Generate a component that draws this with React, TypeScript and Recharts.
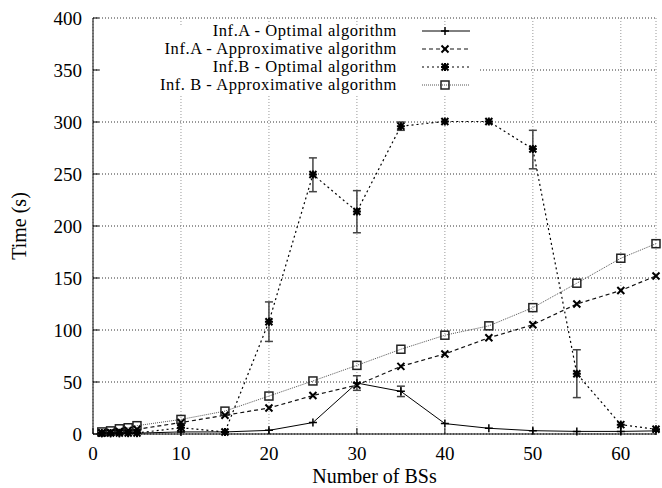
import React from 'react';
import { LineChart, Line, XAxis, YAxis, CartesianGrid, ErrorBar, Legend } from 'recharts';

const FONT = '"Liberation Serif", "Times New Roman", serif';

// number of base stations
const bss = [1, 2, 3, 4, 5, 10, 15, 20, 25, 30, 35, 40, 45, 50, 55, 60, 64];

// run times in seconds
const infAOptimal = [0.5, 0.5, 0.6, 0.7, 0.8, 2, 2, 3.5, 11, 49, 41, 10, 5.5, 3.2, 2.5, 2.5, 3];
const infAOptimalErr = [null, null, null, null, null, null, null, null, null, [7, 7], [5, 5], null, null, null, null, null, null];
const infAApprox = [1, 1.5, 2.5, 3.5, 4.5, 11, 18, 25, 37, 47, 65, 77, 92.5, 105, 125, 138, 152];
const infBOptimal = [1, 1, 1, 1, 1, 6, 2, 108, 249.5, 214, 296, 300.5, 300.5, 274, 58, 9, 4.5];
const infBOptimalErr = [null, null, null, null, null, null, null, [19, 19], [16.5, 16], [20.5, 20], [4, 4], null, null, [19, 18], [23, 23], null, null];
const infBApprox = [2, 3, 5, 6, 8, 14, 22, 36.5, 51, 66, 81.5, 95, 104, 121.5, 145, 169, 183];

const xTicks = [0, 10, 20, 30, 40, 50, 60];
const yTicks = [0, 50, 100, 150, 200, 250, 300, 350, 400];

const seriesNames = [
  'Inf.A - Optimal algorithm',
  'Inf.A - Approximative algorithm',
  'Inf.B - Optimal algorithm',
  'Inf. B - Approximative algorithm',
];

const rows = bss.map((n, i) => ({
  n,
  aOpt: infAOptimal[i],
  aOptErr: infAOptimalErr[i],
  aApx: infAApprox[i],
  bOpt: infBOptimal[i],
  bOptErr: infBOptimalErr[i],
  bApx: infBApprox[i],
}));

// gnuplot-like point shapes
const PlusMark = ({ cx, cy }: any) => (
  <path d={`M${cx - 4},${cy}h8M${cx},${cy - 4}v8`} stroke="#000" strokeWidth={1.5} fill="none" />
);
const CrossMark = ({ cx, cy }: any) => (
  <path d={`M${cx - 3.5},${cy - 3.5}l7,7M${cx - 3.5},${cy + 3.5}l7,-7`} stroke="#000" strokeWidth={2} fill="none" />
);
const StarMark = ({ cx, cy }: any) => (
  <path
    d={`M${cx - 4},${cy}h8M${cx},${cy - 4}v8M${cx - 3.5},${cy - 3.5}l7,7M${cx - 3.5},${cy + 3.5}l7,-7`}
    stroke="#000"
    strokeWidth={2}
    fill="none"
  />
);
const SquareMark = ({ cx, cy }: any) => (
  <rect x={cx - 4} y={cy - 4} width={8} height={8} stroke="#222" strokeWidth={1.5} fill="none" />
);

const styles = [
  { stroke: '#000', dash: undefined, width: 1, Mark: PlusMark },
  { stroke: '#111', dash: '4 3', width: 1.2, Mark: CrossMark },
  { stroke: '#000', dash: '2 3', width: 1.2, Mark: StarMark },
  { stroke: '#555', dash: '1 1', width: 1, Mark: SquareMark },
];

const dotFor = (Mark: any) => (p: any) => <Mark key={`m${p.index}`} cx={p.cx} cy={p.cy} />;

// inward tick marks, labels outside
const BottomTick = ({ x, y, payload }: any) => (
  <g>
    <line x1={x} y1={y} x2={x} y2={y - 6} stroke="#000" />
    <text x={x} y={y + 26} textAnchor="middle" fontFamily={FONT} fontSize={19} fill="#000">
      {payload.value}
    </text>
  </g>
);
const TopTick = ({ x, y }: any) => <line x1={x} y1={y} x2={x} y2={y + 6} stroke="#000" />;
const LeftTick = ({ x, y, payload }: any) => (
  <g>
    <line x1={x} y1={y} x2={x + 6} y2={y} stroke="#000" />
    <text x={x - 11} y={y + 7} textAnchor="end" fontFamily={FONT} fontSize={19} fill="#000">
      {payload.value}
    </text>
  </g>
);
const RightTick = ({ x, y }: any) => <line x1={x} y1={y} x2={x - 6} y2={y} stroke="#000" />;

// opaque key box in the upper left of the plot
const KeyBox = () => (
  <div style={{ position: 'relative', width: 378, height: 74, fontFamily: FONT, fontSize: 16.5, letterSpacing: 0.55, color: '#000' }}>
    <div style={{ position: 'absolute', left: 0, top: 3, width: 378, height: 71, background: '#fff' }} />
    {seriesNames.map((name, i) => {
      const s = styles[i];
      return (
        <div
          key={name}
          style={{ position: 'absolute', left: 0, top: i * 18, width: 378, height: 18, display: 'flex', alignItems: 'center' }}
        >
          <span style={{ width: 297, flexShrink: 0, textAlign: 'right', whiteSpace: 'nowrap', lineHeight: '18px' }}>{name}</span>
          <svg width={81} height={18} style={{ flexShrink: 0 }}>
            <line x1={25} y1={9} x2={73} y2={9} stroke={s.stroke} strokeWidth={s.width} strokeDasharray={s.dash} />
            <s.Mark cx={48} cy={9} />
          </svg>
        </div>
      );
    })}
  </div>
);

const YTitle = ({ viewBox }: any) => {
  const cy = viewBox.y + viewBox.height / 2;
  return (
    <text x={26} y={cy} transform={`rotate(-90 26 ${cy})`} textAnchor="middle" fontFamily={FONT} fontSize={20} fill="#000">
      Time (s)
    </text>
  );
};

const XTitle = ({ viewBox }: any) => (
  <text x={viewBox.x + viewBox.width / 2} y={483} textAnchor="middle" fontFamily={FONT} fontSize={20} fill="#000">
    Number of BSs
  </text>
);

export default function App() {
  return (
    <div style={{ width: 662, height: 488, background: '#fff' }}>
      <style>{'body{margin:0}'}</style>
      <LineChart width={662} height={488} data={rows} margin={{ top: 18, right: 6, bottom: 0, left: 0 }}>
        <CartesianGrid horizontal vertical={false} stroke="#333" strokeDasharray="1 2" />
        <CartesianGrid horizontal={false} vertical stroke="#999" strokeDasharray="1 2" />
        <XAxis
          dataKey="n"
          type="number"
          domain={[0, 64]}
          ticks={xTicks}
          height={54}
          tickSize={0}
          tickMargin={0}
          tickLine={false}
          tick={<BottomTick />}
          axisLine={{ stroke: '#000' }}
          label={<XTitle />}
        />
        <XAxis
          xAxisId="top"
          orientation="top"
          dataKey="n"
          type="number"
          domain={[0, 64]}
          ticks={xTicks}
          height={0}
          tickSize={0}
          tickMargin={0}
          tickLine={false}
          tick={<TopTick />}
          axisLine={{ stroke: '#000' }}
        />
        <YAxis
          type="number"
          domain={[0, 400]}
          ticks={yTicks}
          width={93}
          tickSize={0}
          tickMargin={0}
          tickLine={false}
          tick={<LeftTick />}
          axisLine={{ stroke: '#000' }}
          label={<YTitle />}
        />
        <YAxis
          yAxisId="right"
          orientation="right"
          type="number"
          domain={[0, 400]}
          ticks={yTicks}
          width={0}
          tickSize={0}
          tickMargin={0}
          tickLine={false}
          tick={<RightTick />}
          axisLine={{ stroke: '#000' }}
        />
        <Line
          dataKey="bApx"
          stroke={styles[3].stroke}
          strokeWidth={styles[3].width}
          strokeDasharray={styles[3].dash}
          dot={dotFor(SquareMark)}
          activeDot={false}
          isAnimationActive={false}
        />
        <Line
          dataKey="bOpt"
          stroke={styles[2].stroke}
          strokeWidth={styles[2].width}
          strokeDasharray={styles[2].dash}
          dot={dotFor(StarMark)}
          activeDot={false}
          isAnimationActive={false}
        >
          <ErrorBar dataKey="bOptErr" direction="y" width={4} stroke="#444" strokeWidth={1.5} />
        </Line>
        <Line
          dataKey="aApx"
          stroke={styles[1].stroke}
          strokeWidth={styles[1].width}
          strokeDasharray={styles[1].dash}
          dot={dotFor(CrossMark)}
          activeDot={false}
          isAnimationActive={false}
        />
        <Line
          dataKey="aOpt"
          stroke={styles[0].stroke}
          strokeWidth={styles[0].width}
          dot={dotFor(PlusMark)}
          activeDot={false}
          isAnimationActive={false}
        >
          <ErrorBar dataKey="aOptErr" direction="y" width={4} stroke="#444" strokeWidth={1.5} />
        </Line>
        <Legend
          layout="horizontal"
          verticalAlign="middle"
          align="center"
          content={<KeyBox />}
          wrapperStyle={{ left: 100, top: 22, width: 378, height: 74 }}
        />
      </LineChart>
    </div>
  );
}
